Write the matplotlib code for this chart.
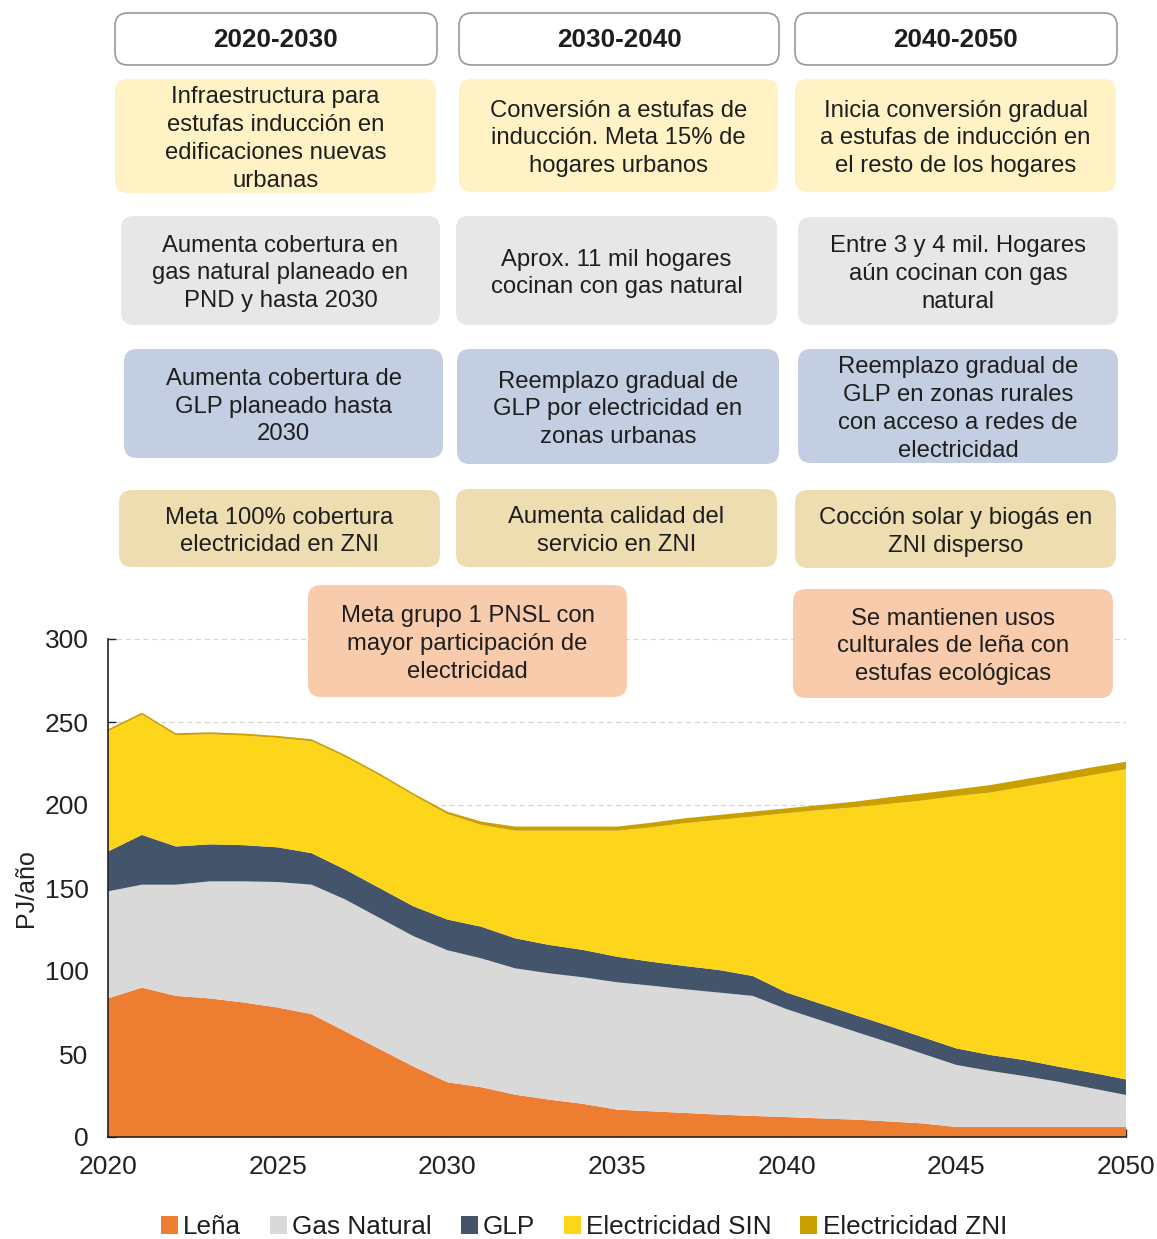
import matplotlib
matplotlib.use("Agg")
import matplotlib.pyplot as plt
from matplotlib.patches import FancyBboxPatch, Patch

plt.rcParams['font.family'] = ['Liberation Sans', 'DejaVu Sans']

# ---- data (PJ/año) ----
years = list(range(2020, 2051))
lena = [83.5, 90, 85, 83.5, 81, 78, 74, 63.5, 53, 42.5, 33,
        30, 25.5, 22.5, 20, 16.5, 15.5, 14.5, 13.5, 12.7, 12,
        11.2, 10.5, 9.4, 8.2, 6, 6, 6, 6, 6, 6]
gas_natural = [64.5, 62, 67, 70.5, 73, 75.6, 78, 79.5, 79, 78.5, 79.5,
               77.6, 76.1, 76.1, 76.2, 76.7, 75.7, 74.5, 73.5, 72.3, 65,
               59.1, 53.1, 47.6, 42, 37.4, 33.8, 30.7, 27.3, 23.3, 19.3]
glp = [24, 30, 23, 22.3, 21.8, 20.9, 19, 18, 18, 18, 18.5,
       19.1, 18.1, 17.1, 16.5, 15.4, 14.4, 14, 13.6, 12, 10,
       10, 10, 10, 10, 10, 9.6, 9.7, 9.1, 9.4, 9.4]
elec_sin = [72.4, 72.4, 67, 66.3, 66, 65.9, 67.4, 67.8, 67.8, 66.8, 63.5,
            61.3, 64.8, 68.8, 71.8, 75.9, 80.9, 86, 90.4, 96, 108,
            116.7, 125, 133.6, 142.5, 152, 158.1, 164.6, 172.1, 179.3, 186.8]
elec_zni = [1.2, 1.2, 1.2, 1.2, 1.2, 1.2, 1.2, 1.2, 1.2, 1.2, 1.5,
            2, 2.5, 2.5, 2.5, 2.5, 2.8, 3, 3, 3, 3,
            3, 3.4, 4, 4.3, 4, 4.5, 4.5, 4.5, 4.7, 4.5]

series_names = ["Leña", "Gas Natural", "GLP", "Electricidad SIN", "Electricidad ZNI"]
series_colors = ["#ED7D31", "#D9D9D9", "#44546A", "#FDD51B", "#C9A000"]

x_ticks = [2020, 2025, 2030, 2035, 2040, 2045, 2050]
y_ticks = [0, 50, 100, 150, 200, 250, 300]

periods = ["2020-2030", "2030-2040", "2040-2050"]
notes_induccion = ["Infraestructura para\nestufas inducción en\nedificaciones nuevas\nurbanas",
                   "Conversión a estufas de\ninducción. Meta 15% de\nhogares urbanos",
                   "Inicia conversión gradual\na estufas de inducción en\nel resto de los hogares"]
notes_gas = ["Aumenta cobertura en\ngas natural planeado en\nPND y hasta 2030",
             "Aprox. 11 mil hogares\ncocinan con gas natural",
             "Entre 3 y 4 mil. Hogares\naún cocinan con gas\nnatural"]
notes_glp = ["Aumenta cobertura de\nGLP planeado hasta\n2030",
             "Reemplazo gradual de\nGLP por electricidad en\nzonas urbanas",
             "Reemplazo gradual de\nGLP en zonas rurales\ncon acceso a redes de\nelectricidad"]
notes_zni = ["Meta 100% cobertura\nelectricidad en ZNI",
             "Aumenta calidad del\nservicio en ZNI",
             "Cocción solar y biogás en\nZNI disperso"]
notes_lena = ["Meta grupo 1 PNSL con\nmayor participación de\nelectricidad",
              "Se mantienen usos\nculturales de leña con\nestufas ecológicas"]

# ---- figure ----
W, H = 1157, 1239
fig = plt.figure(figsize=(W / 100, H / 100), dpi=100)

ax = fig.add_axes([108 / W, 1 - 1137 / H, (1126 - 108) / W, (1137 - 639) / H])
ax.stackplot(years, lena, gas_natural, glp, elec_sin, elec_zni,
             colors=series_colors, linewidth=0, zorder=2)
ax.set_xlim(2020, 2050)
ax.set_ylim(0, 300)
ax.set_xticks(x_ticks)
ax.set_yticks(y_ticks)
ax.set_axisbelow(True)
ax.yaxis.grid(True, linestyle=(0, (4, 3)), color="#D4D4D4", linewidth=0.9, zorder=0)
for s in ("top", "right"):
    ax.spines[s].set_visible(False)
for s in ("left", "bottom"):
    ax.spines[s].set_color("#222222")
    ax.spines[s].set_linewidth(1.2)
    ax.spines[s].set_zorder(4)
ax.tick_params(axis="both", direction="in", length=6, width=1.0, color="#222222",
               labelsize=19, labelcolor="#222222")
ax.tick_params(axis="y", pad=14)
ax.tick_params(axis="x", pad=13)
ax.set_ylabel("PJ/año", fontsize=18, color="#222222", labelpad=5)

# ---- annotation boxes (overlay in pixel coordinates) ----
ov = fig.add_axes([0, 0, 1, 1], zorder=5)
ov.set_xlim(0, W)
ov.set_ylim(H, 0)
ov.axis("off")


def box(x0, y0, x1, y1, face, text, edge="none", bold=False, size=17.2, dy=3):
    p = FancyBboxPatch((x0, y0), x1 - x0, y1 - y0,
                       boxstyle="round,pad=0,rounding_size=13",
                       facecolor=face, edgecolor=edge, linewidth=1.2)
    ov.add_patch(p)
    ov.text((x0 + x1) / 2, (y0 + y1) / 2 + dy, text, ha="center", va="center",
            fontsize=size, color="#1E1E1E", linespacing=1.35,
            fontweight="bold" if bold else "normal")


headers = [(115, 13, 437, 65), (459, 13, 779, 65), (795, 13, 1117, 65)]
for (x0, y0, x1, y1), t in zip(headers, periods):
    box(x0, y0, x1, y1, "white", t, edge="#9A9A9A", bold=True, size=18.8, dy=1)

row1 = [(115, 79, 436, 193), (459, 79, 778, 192), (795, 79, 1116, 192)]
for r, t in zip(row1, notes_induccion):
    box(*r, "#FFF2C4", t)

row2 = [(121, 216, 440, 325), (456, 216, 777, 325), (798, 217, 1118, 325)]
for r, t in zip(row2, notes_gas):
    box(*r, "#E7E7E7", t)

row3 = [(124, 349, 443, 458), (457, 349, 779, 464), (798, 349, 1118, 463)]
for r, t in zip(row3, notes_glp):
    box(*r, "#C3CEE2", t)

row4 = [(119, 490, 440, 567), (456, 489, 777, 567), (795, 490, 1116, 568)]
for r, t in zip(row4, notes_zni):
    box(*r, "#EDDDB0", t)

row5 = [(308, 585, 627, 697), (793, 589, 1113, 698)]
for r, t in zip(row5, notes_lena):
    box(*r, "#F8CBAD", t)

# ---- legend ----
handles = [Patch(facecolor=c, edgecolor="none") for c in series_colors]
fig.legend(handles, series_names, loc="center", bbox_to_anchor=(584 / W, 1 - 1227 / H),
           ncol=5, frameon=False, fontsize=18.8, handlelength=0.65, handleheight=0.65,
           handletextpad=0.2, columnspacing=1.1, labelcolor="#1E1E1E")

fig.savefig("out.png", dpi=100)
